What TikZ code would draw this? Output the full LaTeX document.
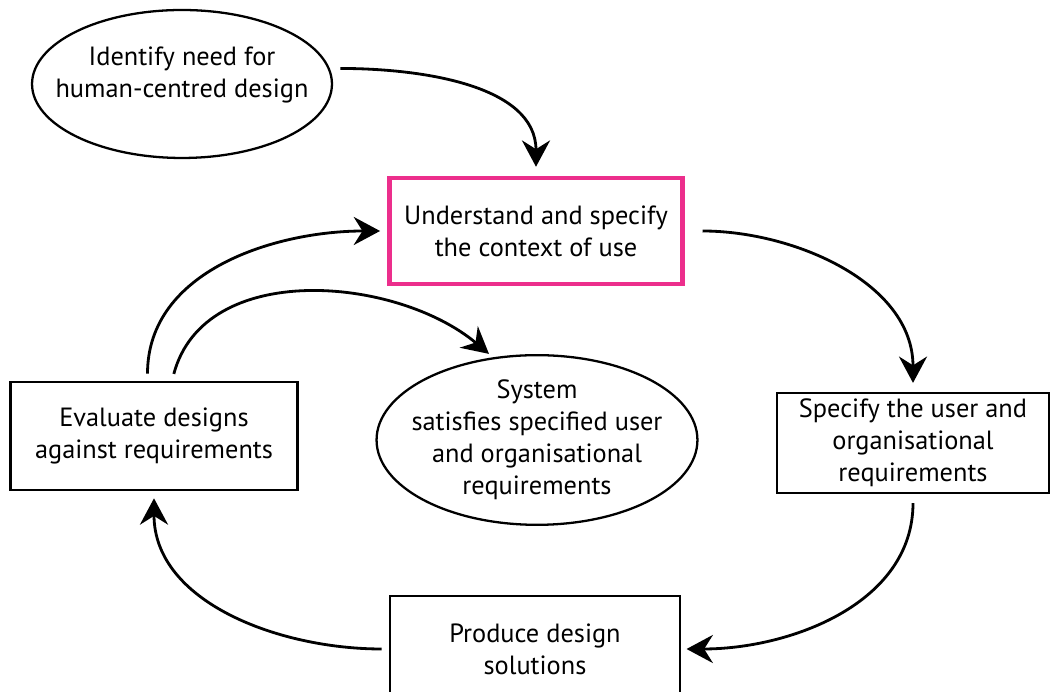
\documentclass[tikz,border=0pt]{standalone}
\usepackage{fontspec}
\setmainfont{PT Sans}
\usetikzlibrary{arrows.meta,shapes.geometric}
\definecolor{rosa}{RGB}{236,46,140}
\begin{document}
\begin{tikzpicture}[x=0.02cm, y=0.02cm,
    font=\fontsize{15}{18.2}\selectfont,
    caja/.style={draw, line width=1.5pt, align=center, inner sep=0pt},
    elipse/.style={draw, ellipse, line width=1.3pt, align=center, inner ysep=0pt},
    flecha/.style={-{Stealth[length=15pt, width=16pt, inset=5pt]}, line width=1.6pt}]
    \useasboundingbox (0,0) rectangle (1051,692);

    % Dibuja los nodos
    \node[elipse, inner xsep=-0.42cm, text depth=14pt, minimum width=6cm, minimum height=2.96cm] (need) at (182,608) {Identify need for\\human-centred design};
    \node[caja, draw=rosa, line width=2.8pt, minimum width=5.86cm, minimum height=2.12cm] (context) at (536,461) {Understand and specify\\the context of use};
    \node[caja, minimum width=5.44cm, minimum height=2cm] (specify) at (913,249) {Specify the user and\\organisational\\requirements};
    \node[caja, minimum width=5.8cm, minimum height=2.12cm] (produce) at (535,43) {Produce design\\solutions};
    \node[caja, minimum width=5.74cm, minimum height=2.16cm] (evaluate) at (154,256) {Evaluate designs\\against requirements};
    \node[elipse, inner xsep=-0.24cm, minimum width=6.34cm, minimum height=2.8cm] (system) at (537,252) {System\\satisfies specified user\\and organisational\\requirements};

    % Dibuja las flechas
    \draw[flecha, shorten <=6pt, shorten >=5pt] (need.6) to[out=0, in=90] (context.north);
    \draw[flecha, shorten <=10pt, shorten >=5pt] (context.east) to[out=0, in=90] (specify.north);
    \draw[flecha, shorten <=5pt, shorten >=3pt] (specify.south) to[out=-90, in=0] (produce.east);
    \draw[flecha, shorten <=4pt, shorten >=4pt] (produce.west) to[out=180, in=-90] (evaluate.south);
    \draw[flecha, shorten <=4pt, shorten >=4pt] ([xshift=-0.13cm]evaluate.north) to[out=90, in=180] (context.west);
    \draw[flecha, shorten <=4pt, shorten >=3pt] ([xshift=0.36cm]evaluate.north) to[out=75, in=140] (system.118);
\end{tikzpicture}
\end{document}
